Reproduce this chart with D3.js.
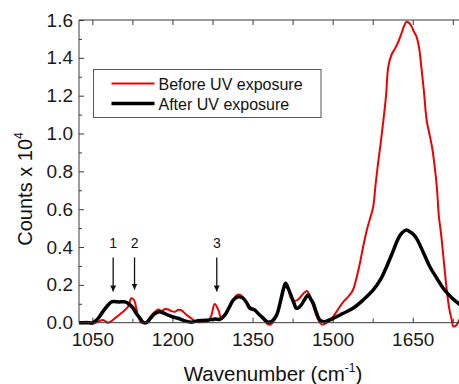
<!DOCTYPE html>
<html>
<head>
<meta charset="utf-8">
<script src="https://cdn.jsdelivr.net/npm/d3@7"></script>
<style>
  body { margin: 0; background: #fff; }
  svg { display: block; font-family: Arial, "Liberation Sans", sans-serif; }
</style>
</head>
<body>
<svg id="chart"></svg>
<script>
// Raman spectra, counts (x 10^4) vs wavenumber
const beforeUV = [
  [1025, 0], [1040, 0.005], [1050, -0.005], [1060, 0.005], [1070, 0.014], [1080, 0],
  [1092, 0.023], [1104, 0.05], [1111, 0.067], [1117, 0.085], [1123, 0.129], [1128, 0.12],
  [1132, 0.08], [1136, 0.032], [1142, 0], [1150, 0], [1158, 0.03], [1167, 0.058],
  [1174, 0.07], [1180, 0.062], [1186, 0.072], [1192, 0.07], [1199, 0.06], [1205, 0.058],
  [1211, 0.068], [1217, 0.065], [1225, 0.045], [1233, 0.028], [1242, 0.01], [1250, 0.002],
  [1260, 0.005], [1267, 0.01], [1273, 0.04], [1279, 0.099], [1286, 0.067], [1292, 0.018],
  [1298, 0.04], [1306, 0.08], [1314, 0.12], [1320, 0.145], [1326, 0.148], [1332, 0.135],
  [1340, 0.1], [1347, 0.08], [1354, 0.07], [1360, 0.05], [1367, 0.03], [1374, 0.005],
  [1380, -0.01], [1386, -0.005], [1395, 0.04], [1404, 0.12], [1411, 0.19], [1416, 0.18],
  [1422, 0.13], [1428, 0.115], [1434, 0.12], [1441, 0.14], [1447, 0.16], [1452, 0.168],
  [1456, 0.15], [1462, 0.1], [1468, 0.05], [1474, 0.01], [1480, -0.01], [1486, -0.005],
  [1494, 0.01], [1501, 0.032], [1510, 0.07], [1520, 0.11], [1530, 0.14], [1538, 0.173],
  [1545, 0.24], [1551, 0.314], [1557, 0.4], [1564, 0.49], [1570, 0.55], [1576, 0.613],
  [1580, 0.72], [1585, 0.842], [1590, 0.95], [1595, 1.07], [1600, 1.2], [1604, 1.35],
  [1610, 1.415], [1617, 1.45], [1623, 1.485], [1629, 1.53], [1634, 1.57], [1638, 1.59],
  [1643, 1.585], [1648, 1.565], [1652, 1.54], [1657, 1.512], [1662, 1.45], [1666, 1.353],
  [1671, 1.22], [1676, 1.07], [1681, 1.0], [1686, 0.93], [1690, 0.85], [1695, 0.72],
  [1699, 0.56], [1703, 0.47], [1708, 0.33], [1713, 0.19], [1718, 0.08], [1723, 0.014],
  [1726, -0.02], [1732, -0.012], [1737, 0.014], [1745, 0.05]
];

const afterUV = [
  [1025, 0], [1040, 0], [1051, 0], [1060, 0.02], [1070, 0.06], [1080, 0.095],
  [1086, 0.11], [1100, 0.11], [1111, 0.11], [1118, 0.1], [1126, 0.078], [1132, 0.05],
  [1139, 0.025], [1145, 0.002], [1151, 0], [1158, 0.02], [1166, 0.045], [1176, 0.058],
  [1184, 0.05], [1192, 0.04], [1201, 0.03], [1212, 0.022], [1223, 0.01], [1236, 0.003],
  [1248, 0.01], [1258, 0.012], [1270, 0.015], [1280, 0.02], [1289, 0.018], [1298, 0.04],
  [1306, 0.08], [1314, 0.12], [1323, 0.137], [1332, 0.13], [1340, 0.1], [1345, 0.076],
  [1354, 0.067], [1360, 0.05], [1367, 0.032], [1373, 0.015], [1379, 0.003], [1387, 0.01],
  [1395, 0.04], [1402, 0.11], [1408, 0.18], [1412, 0.208], [1417, 0.18], [1423, 0.137],
  [1428, 0.1], [1432, 0.076], [1440, 0.09], [1447, 0.12], [1454, 0.146], [1459, 0.125],
  [1464, 0.1], [1470, 0.05], [1476, 0.014], [1485, 0.005], [1492, 0.012], [1501, 0.023],
  [1520, 0.05], [1538, 0.076], [1557, 0.12], [1576, 0.173], [1590, 0.23], [1601, 0.296],
  [1612, 0.37], [1623, 0.446], [1630, 0.475], [1638, 0.49], [1645, 0.48], [1650, 0.47],
  [1657, 0.446], [1670, 0.37], [1682, 0.296], [1695, 0.235], [1707, 0.182], [1720, 0.14],
  [1732, 0.11], [1745, 0.08]
];

const seriesNames = ['Before UV exposure', 'After UV exposure'];
const xTicks = [1050, 1200, 1350, 1500, 1650];
const xMinorTicks = [1125, 1275, 1425, 1575, 1725];
const yTicks = [0, 0.2, 0.4, 0.6, 0.8, 1.0, 1.2, 1.4, 1.6];
const yMinorTicks = [0.1, 0.3, 0.5, 0.7, 0.9, 1.1, 1.3, 1.5];

// marked bands: label, wavenumber, arrow top, arrow tip, label baseline
const bandMarks = [
  { label: '1', wn: 1089, top: 0.345, tip: 0.165, text: 0.397 },
  { label: '2', wn: 1129, top: 0.345, tip: 0.175, text: 0.397 },
  { label: '3', wn: 1283, top: 0.345, tip: 0.165, text: 0.397 }
];

const width = 459;
const height = 384;
const plotLeft = 79, plotTop = 20, plotBottom = 322.7;

const svg = d3.select('#chart')
  .attr('width', width)
  .attr('height', height);

const x = d3.scaleLinear().domain([1025, 1760]).range([plotLeft, 471.5]);
const y = d3.scaleLinear().domain([0, 1.6]).range([plotBottom, plotTop]);

const defs = svg.append('defs');
defs.append('clipPath').attr('id', 'plotClip')
  .append('rect')
  .attr('x', plotLeft).attr('y', plotTop)
  .attr('width', width - plotLeft).attr('height', plotBottom - plotTop + 8);

const axisColor = '#3a3a3a';
const font = 'Arial, "Liberation Sans", sans-serif';

// top frame line
svg.append('line')
  .attr('x1', plotLeft).attr('x2', width).attr('y1', plotTop).attr('y2', plotTop)
  .attr('stroke', axisColor).attr('stroke-width', 1);

// bottom axis
const xAxis = svg.append('g')
  .attr('transform', `translate(0,${plotBottom})`)
  .call(d3.axisBottom(x).tickValues(xTicks).tickSize(-5).tickPadding(10).tickFormat(d3.format('d')));
xAxis.select('.domain').remove();
xAxis.selectAll('text').attr('font-size', 19).attr('fill', '#1a1a1a').attr('font-family', font);
xAxis.selectAll('line').attr('stroke', axisColor);

svg.append('g')
  .attr('transform', `translate(0,${plotBottom})`)
  .call(d3.axisBottom(x).tickValues(xMinorTicks).tickSize(-4).tickFormat(''))
  .call(g => g.select('.domain').remove())
  .selectAll('line').attr('stroke', axisColor);

// top axis ticks
svg.append('g')
  .attr('transform', `translate(0,${plotTop})`)
  .call(d3.axisTop(x).tickValues(xTicks.concat(xMinorTicks)).tickSize(-5).tickFormat(''))
  .call(g => g.select('.domain').remove())
  .selectAll('line').attr('stroke', axisColor);

// left axis
const yAxis = svg.append('g')
  .attr('transform', `translate(${plotLeft},0)`)
  .call(d3.axisLeft(y).tickValues(yTicks).tickSize(-5).tickPadding(6).tickFormat(d3.format('.1f')));
yAxis.select('.domain').remove();
yAxis.selectAll('text').attr('font-size', 19).attr('fill', '#1a1a1a').attr('font-family', font);
yAxis.selectAll('line').attr('stroke', axisColor);

svg.append('g')
  .attr('transform', `translate(${plotLeft},0)`)
  .call(d3.axisLeft(y).tickValues(yMinorTicks).tickSize(-3).tickFormat(''))
  .call(g => g.select('.domain').remove())
  .selectAll('line').attr('stroke', axisColor);

// spectra
const line = d3.line()
  .x(d => x(d[0]))
  .y(d => y(d[1]))
  .curve(d3.curveCatmullRom.alpha(0.5));

const plot = svg.append('g').attr('clip-path', 'url(#plotClip)');

plot.append('path')
  .datum(beforeUV)
  .attr('fill', 'none')
  .attr('stroke', '#ee0000')
  .attr('stroke-width', 2)
  .attr('stroke-linejoin', 'round')
  .attr('d', line);

plot.append('path')
  .datum(afterUV)
  .attr('fill', 'none')
  .attr('stroke', '#000')
  .attr('stroke-width', 3.5)
  .attr('stroke-linejoin', 'round')
  .attr('d', line);

// axis lines drawn over curves
svg.append('line')
  .attr('x1', plotLeft).attr('x2', width).attr('y1', plotBottom).attr('y2', plotBottom)
  .attr('stroke', axisColor).attr('stroke-width', 1);
svg.append('line')
  .attr('x1', plotLeft).attr('x2', plotLeft).attr('y1', plotTop).attr('y2', plotBottom)
  .attr('stroke', axisColor).attr('stroke-width', 1);

// band arrows
defs.append('marker')
  .attr('id', 'arrowHead')
  .attr('viewBox', '0 0 10 10')
  .attr('refX', 10).attr('refY', 5)
  .attr('markerWidth', 6).attr('markerHeight', 7)
  .attr('markerUnits', 'userSpaceOnUse')
  .attr('orient', 'auto')
  .append('path').attr('d', 'M0,0 L10,5 L0,10 Z').attr('fill', '#111');

const marks = svg.append('g');
marks.selectAll('line')
  .data(bandMarks)
  .enter()
  .append('line')
  .attr('x1', d => x(d.wn)).attr('x2', d => x(d.wn))
  .attr('y1', d => y(d.top)).attr('y2', d => y(d.tip))
  .attr('stroke', '#111').attr('stroke-width', 1.3)
  .attr('marker-end', 'url(#arrowHead)');

marks.selectAll('text')
  .data(bandMarks)
  .enter()
  .append('text')
  .attr('x', d => x(d.wn))
  .attr('y', d => y(d.text))
  .attr('text-anchor', 'middle')
  .attr('font-size', 14)
  .attr('fill', '#111')
  .text(d => d.label);

// legend
const legend = svg.append('g');
legend.append('rect')
  .attr('x', 93.5).attr('y', 69.5)
  .attr('width', 227.5).attr('height', 48)
  .attr('fill', '#fff').attr('stroke', '#555').attr('stroke-width', 1);

const legendItems = [
  { name: seriesNames[0], color: '#ee0000', w: 2, y: 83.5 },
  { name: seriesNames[1], color: '#000', w: 3.5, y: 103.5 }
];
legendItems.forEach(d => {
  legend.append('line')
    .attr('x1', 111.5).attr('x2', 154.5)
    .attr('y1', d.y).attr('y2', d.y)
    .attr('stroke', d.color).attr('stroke-width', d.w);
  legend.append('text')
    .attr('x', 158.5).attr('y', d.y + 6)
    .attr('font-size', 16).attr('fill', '#111')
    .text(d.name);
});

// axis titles
const yTitle = svg.append('text')
  .attr('transform', 'translate(32,189) rotate(-90)')
  .attr('text-anchor', 'middle')
  .attr('font-size', 20)
  .attr('fill', '#111');
yTitle.append('tspan').text('Counts x 10');
yTitle.append('tspan').attr('font-size', 12).attr('dy', -9).text('4');

const xTitle = svg.append('text')
  .attr('x', 273).attr('y', 381)
  .attr('text-anchor', 'middle')
  .attr('font-size', 20.5)
  .attr('fill', '#111');
xTitle.append('tspan').text('Wavenumber (cm');
xTitle.append('tspan').attr('font-size', 12).attr('dy', -9).text('-1');
xTitle.append('tspan').attr('dy', 9).text(')');
</script>
</body>
</html>
